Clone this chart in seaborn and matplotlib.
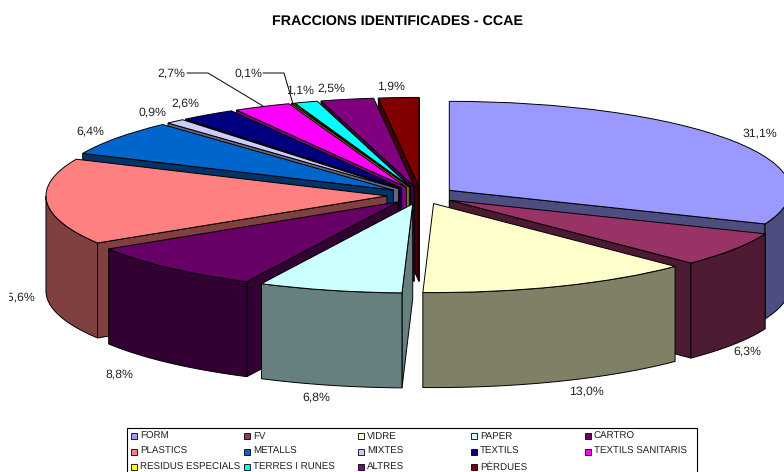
import numpy as np
import matplotlib
matplotlib.use("Agg")
import matplotlib.pyplot as plt
from matplotlib.patches import Rectangle
import seaborn as sns

# Data
categories = ["FORM", "FV", "VIDRE", "PAPER", "CARTRO",
              "PLASTICS", "METALLS", "MIXTES", "TEXTILS", "TEXTILS SANITARIS",
              "RESIDUS ESPECIALS", "TERRES I RUNES", "ALTRES", "PÈRDUES"]
values = [31.1, 6.3, 13.0, 6.8, 8.8, 15.6, 6.4, 0.9, 2.6, 2.7, 0.1, 1.1, 2.5, 1.9]
colors = ["#9999FF", "#993366", "#FFFFCC", "#CCFFFF", "#660066",
          "#FF8080", "#0066CC", "#CCCCFF", "#000080", "#FF00FF",
          "#FFFF00", "#00FFFF", "#800080", "#800000"]

sns.set_theme(style="white")
plt.rcParams["font.family"] = ["Liberation Sans", "DejaVu Sans"]
plt.rcParams["text.hinting"] = "no_hinting"

W, H = 784, 472
CX, CY = 421, 195.3   # pie centre in pixels
RX, RY = 341, 89      # pie radii in pixels
DEPTH = 95 / RY       # pie thickness, in units of RY
LW = 0.7
EDGE = "#000000"

palette = sns.color_palette(colors)
walls = [tuple(c * 0.5 for c in col) for col in palette]

fig = plt.figure(figsize=(W / 100, H / 100), dpi=100, facecolor="white")
ax = fig.add_axes([0, 0, 1, 1])

# Top faces come from the pie, the axes stretch the circle to an ellipse
wedges, _ = ax.pie(values, colors=palette, explode=[0.1] * len(values),
                   startangle=90, counterclock=False,
                   wedgeprops={"edgecolor": EDGE, "linewidth": LW})
ax.set_aspect("auto")
ax.set_xlim(-CX / RX, (W - CX) / RX)
ax.set_ylim((CY - H) / RY, CY / RY)
ax.set_axis_off()


def radial_face(w, t):
    cx, cy = w.center
    ox, oy = cx + np.cos(t), cy + np.sin(t)
    return [cx, ox, ox, cx], [cy, oy, oy - DEPTH, cy - DEPTH]


# Back slices first, so front ones paint over them
mids = [np.radians((w.theta1 + w.theta2) / 2) for w in wedges]
order = np.argsort(-np.sin(mids))
for z, i in enumerate(order):
    w = wedges[i]
    t1, t2 = np.radians(w.theta1), np.radians(w.theta2)
    zorder = 2 + z
    kw = dict(facecolor=walls[i], edgecolor=EDGE, linewidth=LW, zorder=zorder)
    if np.cos(t1) > 0:
        ax.fill(*radial_face(w, t1), **kw)
    if np.cos(t2) < 0:
        ax.fill(*radial_face(w, t2), **kw)
    # outer rim, only the part that faces the viewer
    tt = np.linspace(t1, t2, 200)
    tt = tt[np.sin(tt) < 0]
    if len(tt) > 1:
        x = w.center[0] + np.cos(tt)
        y = w.center[1] + np.sin(tt)
        ax.fill(np.r_[x, x[::-1]], np.r_[y, y[::-1] - DEPTH], **kw)
    w.set_zorder(zorder + 0.5)

# Overlay in pixel coordinates for texts and the legend box
over = fig.add_axes([0, 0, 1, 1], zorder=5)
over.set_xlim(0, W)
over.set_ylim(H, 0)
over.set_axis_off()
over.patch.set_alpha(0)

over.text(397, 21, "FRACCIONS IDENTIFICADES - CCAE", ha="center", va="center",
          fontsize=10.3, fontweight="bold", color="black")

# Value labels
label_pos = [(760, 133), (747, 351), (586, 391), (316, 397), (119, 374),
             (17, 297), (90, 131), (152, 112), (185, 103), (171, 73),
             (248, 73), (300.5, 90), (331, 88), (391.5, 86)]
value_texts = []
for v, (lx, ly) in zip(values, label_pos):
    value_texts.append(over.text(lx, ly, f"{v:.1f}%".replace(".", ","), ha="center",
                                 va="center", fontsize=8.8, color="#222222"))

# The 15,6% label runs off the left side of the original chart area
value_texts[5].set_clip_path(Rectangle((9, 280), 60, 30, transform=over.transData))
value_texts[5].set_clip_on(True)

# Leader lines
over.plot([187, 208, 263], [73, 73, 106], color="black", lw=LW)
over.plot([263, 284, 293], [73, 73, 104], color="black", lw=LW)

# Legend with even columns
over.add_patch(Rectangle((127, 428), 570, 50, facecolor="white", edgecolor="black",
                         linewidth=0.8))
for i, (name, col) in enumerate(zip(categories, palette)):
    c, r = i % 5, i // 5
    x = 131 + c * 113.4
    y = 436 + r * 15.5
    over.add_patch(Rectangle((x, y - 3), 6, 6, facecolor=col, edgecolor="black", linewidth=0.6))
    over.text(x + 9, y, name, ha="left", va="center", fontsize=7.0, color="#222222")

fig.savefig("out.png", dpi=100, facecolor="white")
